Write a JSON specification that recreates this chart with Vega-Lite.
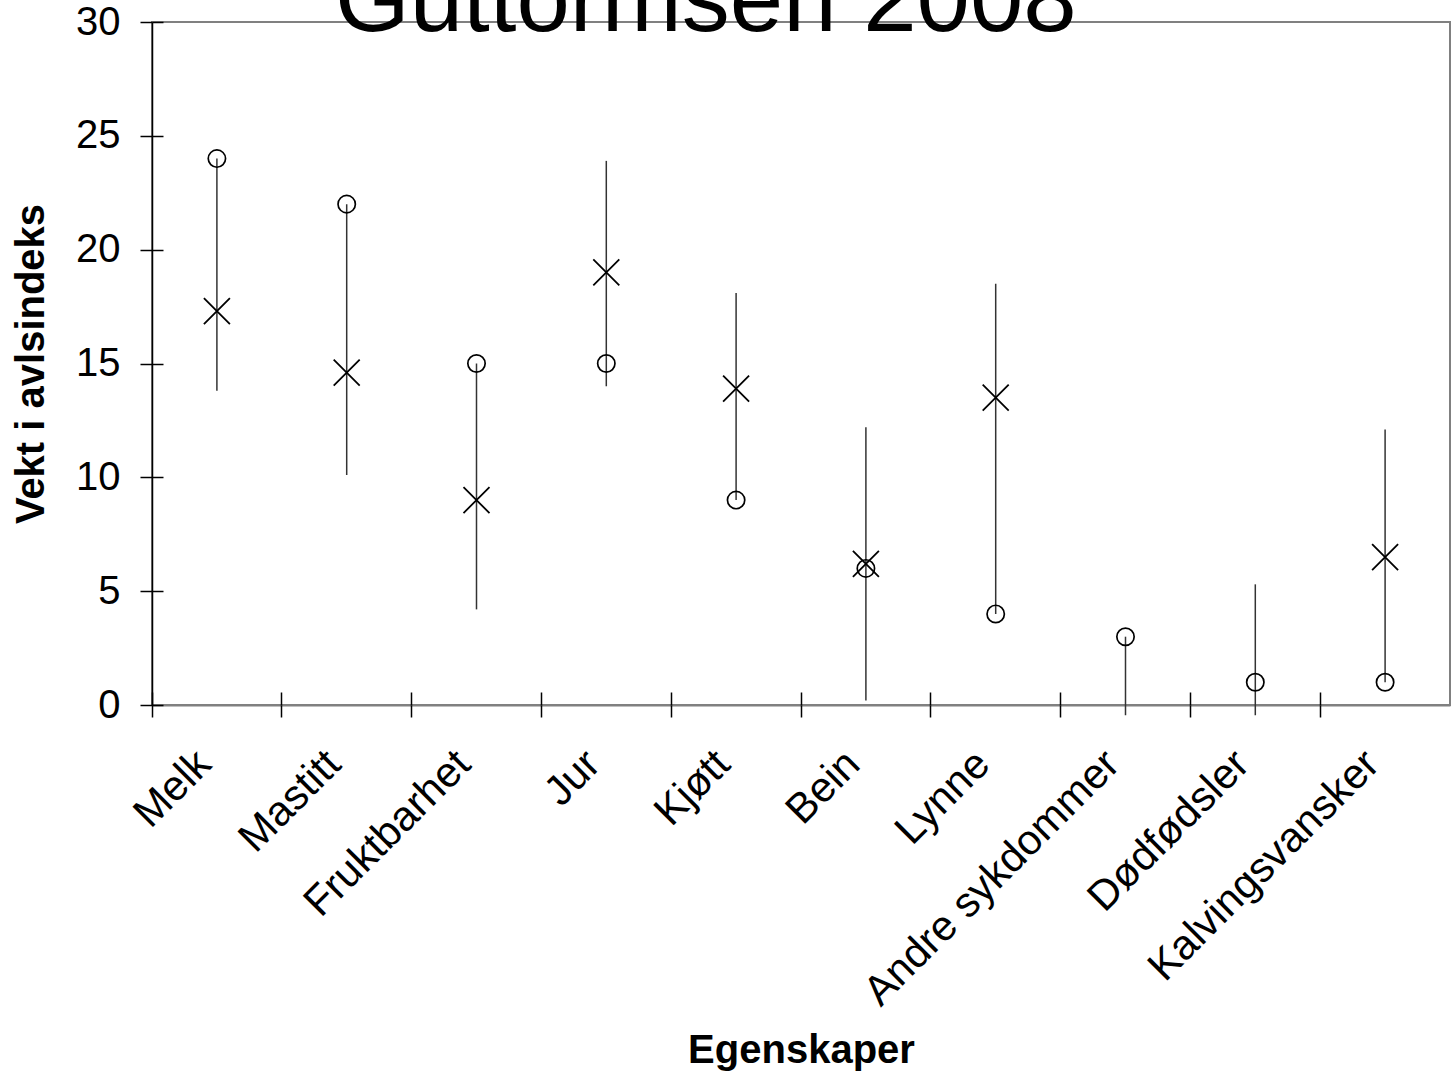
{
  "$schema": "https://vega.github.io/schema/vega-lite/v6.json",
  "autosize": "none",
  "width": 1298,
  "height": 683,
  "padding": {"left": 152, "top": 22, "right": 3, "bottom": 368},
  "background": "white",
  "title": {"text": "Guttormsen 2008", "fontSize": 96, "fontWeight": "normal", "font": "Liberation Sans", "anchor": "start", "frame": "group", "dx": 183, "offset": -125, "baseline": "alphabetic", "color": "#000"},
  "config": {
    "view": {"stroke": "#808080", "strokeWidth": 2},
    "font": "Liberation Sans",
    "axis": {"grid": false}
  },
  "data": {"values": [
    {"trait": "Melk", "circle": 24, "cross": 17.3, "low": 13.8, "high": 24},
    {"trait": "Mastitt", "circle": 22, "cross": 14.6, "low": 10.1, "high": 22},
    {"trait": "Fruktbarhet", "circle": 15, "cross": 9.0, "low": 4.2, "high": 15},
    {"trait": "Jur", "circle": 15, "cross": 19.0, "low": 14.0, "high": 23.9},
    {"trait": "Kjøtt", "circle": 9, "cross": 13.9, "low": 9, "high": 18.1},
    {"trait": "Bein", "circle": 6, "cross": 6.2, "low": 0.2, "high": 12.2},
    {"trait": "Lynne", "circle": 4, "cross": 13.5, "low": 4, "high": 18.5},
    {"trait": "Andre sykdommer", "circle": 3, "cross": null, "low": -0.45, "high": 3},
    {"trait": "Dødfødsler", "circle": 1, "cross": null, "low": -0.45, "high": 5.3},
    {"trait": "Kalvingsvansker", "circle": 1, "cross": 6.5, "low": 1, "high": 12.1}
  ]},
  "resolve": {"axis": {"x": "independent", "y": "independent"}},
  "layer": [
    {
      "mark": {"type": "rule", "color": "#333", "strokeWidth": 1.5},
      "encoding": {
        "x": {"field": "trait", "type": "nominal", "sort": null,
          "scale": {"paddingInner": 0, "paddingOuter": 0},
          "axis": {"orient": "bottom", "ticks": false, "labelAngle": -45, "labelAlign": "right", "labelBaseline": "middle", "labelFontSize": 42, "labelPadding": 52, "labelOffset": -13, "labelLimit": 500, "labelColor": "#000", "labelFont": "Liberation Sans", "domainColor": "#808080", "domainWidth": 2, "title": "Egenskaper", "titleFontSize": 40, "titleFontWeight": "bold", "titleColor": "#000", "titleFont": "Liberation Sans", "titlePadding": 125}},
        "y": {"field": "low", "type": "quantitative",
          "scale": {"domain": [0, 30], "nice": false},
          "axis": {"orient": "left", "values": [0, 5, 10, 15, 20, 25, 30], "tickSize": 12, "tickColor": "#000", "tickWidth": 1.5, "domainColor": "#000", "domainWidth": 1.5, "labelFontSize": 40, "labelColor": "#000", "labelFont": "Liberation Sans", "labelPadding": 20, "title": "Vekt i avlsindeks", "titleFontSize": 40, "titleFontWeight": "bold", "titleColor": "#000", "titleFont": "Liberation Sans", "titlePadding": 24}},
        "y2": {"field": "high"}
      }
    },
    {
      "mark": {"type": "point", "shape": "circle", "filled": false, "stroke": "#000", "strokeWidth": 1.7, "size": 300, "opacity": 1},
      "encoding": {
        "x": {"field": "trait", "type": "nominal", "sort": null,
          "axis": {"orient": "bottom", "bandPosition": 0, "tickSize": 12, "tickColor": "#000", "tickWidth": 1.5, "labels": false, "domain": false, "title": null}},
        "y": {"field": "circle", "type": "quantitative",
          "axis": {"orient": "left", "values": [0, 5, 10, 15, 20, 25, 30], "tickSize": -11, "tickColor": "#000", "tickWidth": 1.5, "labels": false, "domain": false, "title": null}}
      }
    },
    {
      "mark": {"type": "point", "shape": "M-1,-1L1,1M-1,1L1,-1", "filled": false, "stroke": "#000", "strokeWidth": 1.8, "size": 676, "opacity": 1},
      "encoding": {
        "x": {"field": "trait", "type": "nominal", "sort": null,
          "axis": {"orient": "bottom", "bandPosition": 0, "tickSize": -13, "tickColor": "#000", "tickWidth": 1.5, "labels": false, "domain": false, "title": null}},
        "y": {"field": "cross", "type": "quantitative", "axis": null}
      }
    }
  ]
}
